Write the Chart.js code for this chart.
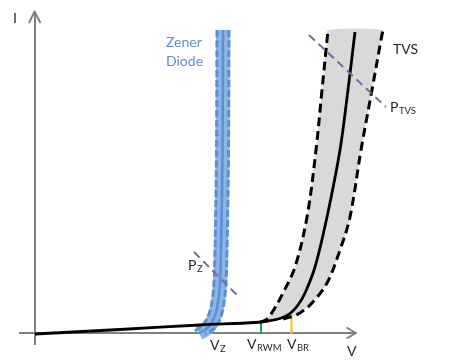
<!DOCTYPE html>
<html>
<head>
<meta charset="utf-8">
<script src="https://cdn.jsdelivr.net/npm/chart.js@4.4.0/dist/chart.umd.min.js"></script>
<style>
  html, body { margin: 0; padding: 0; background: #fff; }
  #wrap { width: 454px; height: 364px; }
</style>
</head>
<body>
<div id="wrap"><canvas id="ivChart" width="454" height="364"></canvas></div>
<script>
// I-V curves, in picture units (x to the right, y downwards)
const axisYx = [35, 35];
const axisYy = [345, 12];
const axisXx = [19, 356];
const axisXy = [333, 333];
const arrowYx = [29, 34.5, 40.5];
const arrowYy = [23, 11.5, 23];
const arrowXx = [346.5, 356, 346.5];
const arrowXy = [327.5, 333, 338.5];

// TVS / diode main curve
const mainX = [35, 120, 200, 255, 268, 280, 290, 298, 305, 315, 327, 340, 348, 355];
const mainY = [334, 329.5, 325, 322.5, 321, 318.5, 313.5, 305, 293, 267, 217, 150, 90, 32];
// TVS tolerance band edges
const tvsLoX = [260, 267, 273, 283, 295, 307, 316, 322, 327, 328];
const tvsLoY = [322.5, 319, 311, 293, 267, 217, 150, 90, 40, 30];
const tvsHiX = [283, 293, 300, 312, 327, 340, 350, 361, 372, 381, 383];
const tvsHiY = [319, 316, 313, 303, 283, 250, 217, 150, 90, 40, 30];

// Zener curve and its band edges
const zenerX = [223, 222.5, 221, 219.5, 216, 211, 205, 199];
const zenerY = [30, 150, 250, 290, 312, 324, 330, 333];
const zenerLoX = [217, 216.5, 215, 213.5, 210, 205, 199, 195];
const zenerLoY = [30, 150, 250, 290, 311, 322, 328, 331];
const zenerHiX = [229, 228.5, 227, 225.5, 222, 217, 211, 205];
const zenerHiY = [30, 150, 250, 290, 313, 325, 331, 334];

// power limit lines
const pzX = [194, 238];
const pzY = [252, 296];
const ptvsX = [309, 386];
const ptvsY = [35, 107];

// voltage marks
const vrwmX = [261, 261];
const vrwmY = [322, 333];
const vbrX = [291.5, 291.5];
const vbrY = [316, 333];

// text labels
const labelText = ['I', 'V', 'Zener', 'Diode', 'TVS', 'P', 'P', 'V', 'V', 'V'];
const labelSub  = ['', '', '', '', '', 'TVS', 'Z', 'Z', 'RWM', 'BR'];
const labelX    = [13, 347, 166, 166, 393, 390, 188, 210, 247, 287];
const labelY    = [23, 356, 47, 66, 54, 112, 270, 350, 349, 349];
const labelBlue = [false, false, true, true, false, false, false, false, false, false];

const pts = (xs, ys) => xs.map((x, i) => ({ x: x, y: ys[i] }));

function line(xs, ys, color, width, opts) {
    return Object.assign({
        data: pts(xs, ys),
        showLine: true,
        borderColor: color,
        borderWidth: width,
        pointRadius: 0,
        fill: false,
        tension: 0,
        borderCapStyle: 'butt',
        borderJoinStyle: 'round'
    }, opts || {});
}

// grey area closed between the two dashed TVS edges
const bandX = tvsLoX.concat(tvsHiX.slice().reverse());
const bandY = tvsLoY.concat(tvsHiY.slice().reverse());

const textPlugin = {
    id: 'ivLabels',
    afterDatasetsDraw(chart) {
        const ctx = chart.ctx;
        const sx = chart.scales.x, sy = chart.scales.y;
        ctx.save();
        ctx.textBaseline = 'alphabetic';
        ctx.textAlign = 'left';
        labelText.forEach((t, i) => {
            const px = sx.getPixelForValue(labelX[i]);
            const py = sy.getPixelForValue(labelY[i]);
            ctx.fillStyle = labelBlue[i] ? '#5b8fd6' : '#262626';
            ctx.font = '14px Lato';
            ctx.fillText(t, px, py);
            if (labelSub[i]) {
                const w = ctx.measureText(t).width;
                ctx.font = '9.5px Lato';
                ctx.fillText(labelSub[i], px + w + 0.5, py + 2);
            }
        });
        ctx.restore();
    }
};

new Chart(document.getElementById('ivChart'), {
    type: 'scatter',
    data: {
        datasets: [
            line(bandX, bandY, 'rgba(0,0,0,0)', 0, { fill: 'shape', backgroundColor: '#d9d9d9', tension: 0.25, order: 20 }),
            line(axisYx, axisYy, '#808080', 2, { order: 19 }),
            line(axisXx, axisXy, '#808080', 2, { order: 19 }),
            line(arrowYx, arrowYy, '#808080', 2, { order: 19 }),
            line(arrowXx, arrowXy, '#808080', 2, { order: 19 }),
            line(vrwmX, vrwmY, '#00b050', 2, { order: 18 }),
            line(vbrX, vbrY, '#ffc000', 2, { order: 18 }),
            line(zenerX, zenerY, '#8db4e2', 14, { tension: 0.35, order: 15 }),
            line(zenerX, zenerY, '#5b8fd6', 2.5, { tension: 0.35, order: 14 }),
            line(zenerLoX, zenerLoY, '#5b8fd6', 3, { tension: 0.35, borderDash: [7, 3], order: 14 }),
            line(zenerHiX, zenerHiY, '#5b8fd6', 3, { tension: 0.35, borderDash: [7, 3], order: 14 }),
            line(tvsLoX, tvsLoY, '#000000', 3, { tension: 0.35, borderDash: [9, 5], order: 12 }),
            line(tvsHiX, tvsHiY, '#000000', 3, { tension: 0.35, borderDash: [9, 5], order: 12 }),
            line(mainX, mainY, '#000000', 2.8, { tension: 0.3, order: 11 }),
            line(pzX, pzY, '#8064a2', 2, { borderDash: [8, 5], order: 5 }),
            line(ptvsX, ptvsY, '#8064a2', 2, { borderDash: [8, 5], order: 5 })
        ]
    },
    options: {
        responsive: false,
        animation: false,
        layout: { padding: 0 },
        plugins: {
            legend: { display: false },
            tooltip: { enabled: false },
            title: { display: false }
        },
        scales: {
            x: { type: 'linear', min: 0, max: 454, display: false },
            y: { type: 'linear', min: 0, max: 364, reverse: true, display: false }
        }
    },
    plugins: [textPlugin]
});
</script>
</body>
</html>
